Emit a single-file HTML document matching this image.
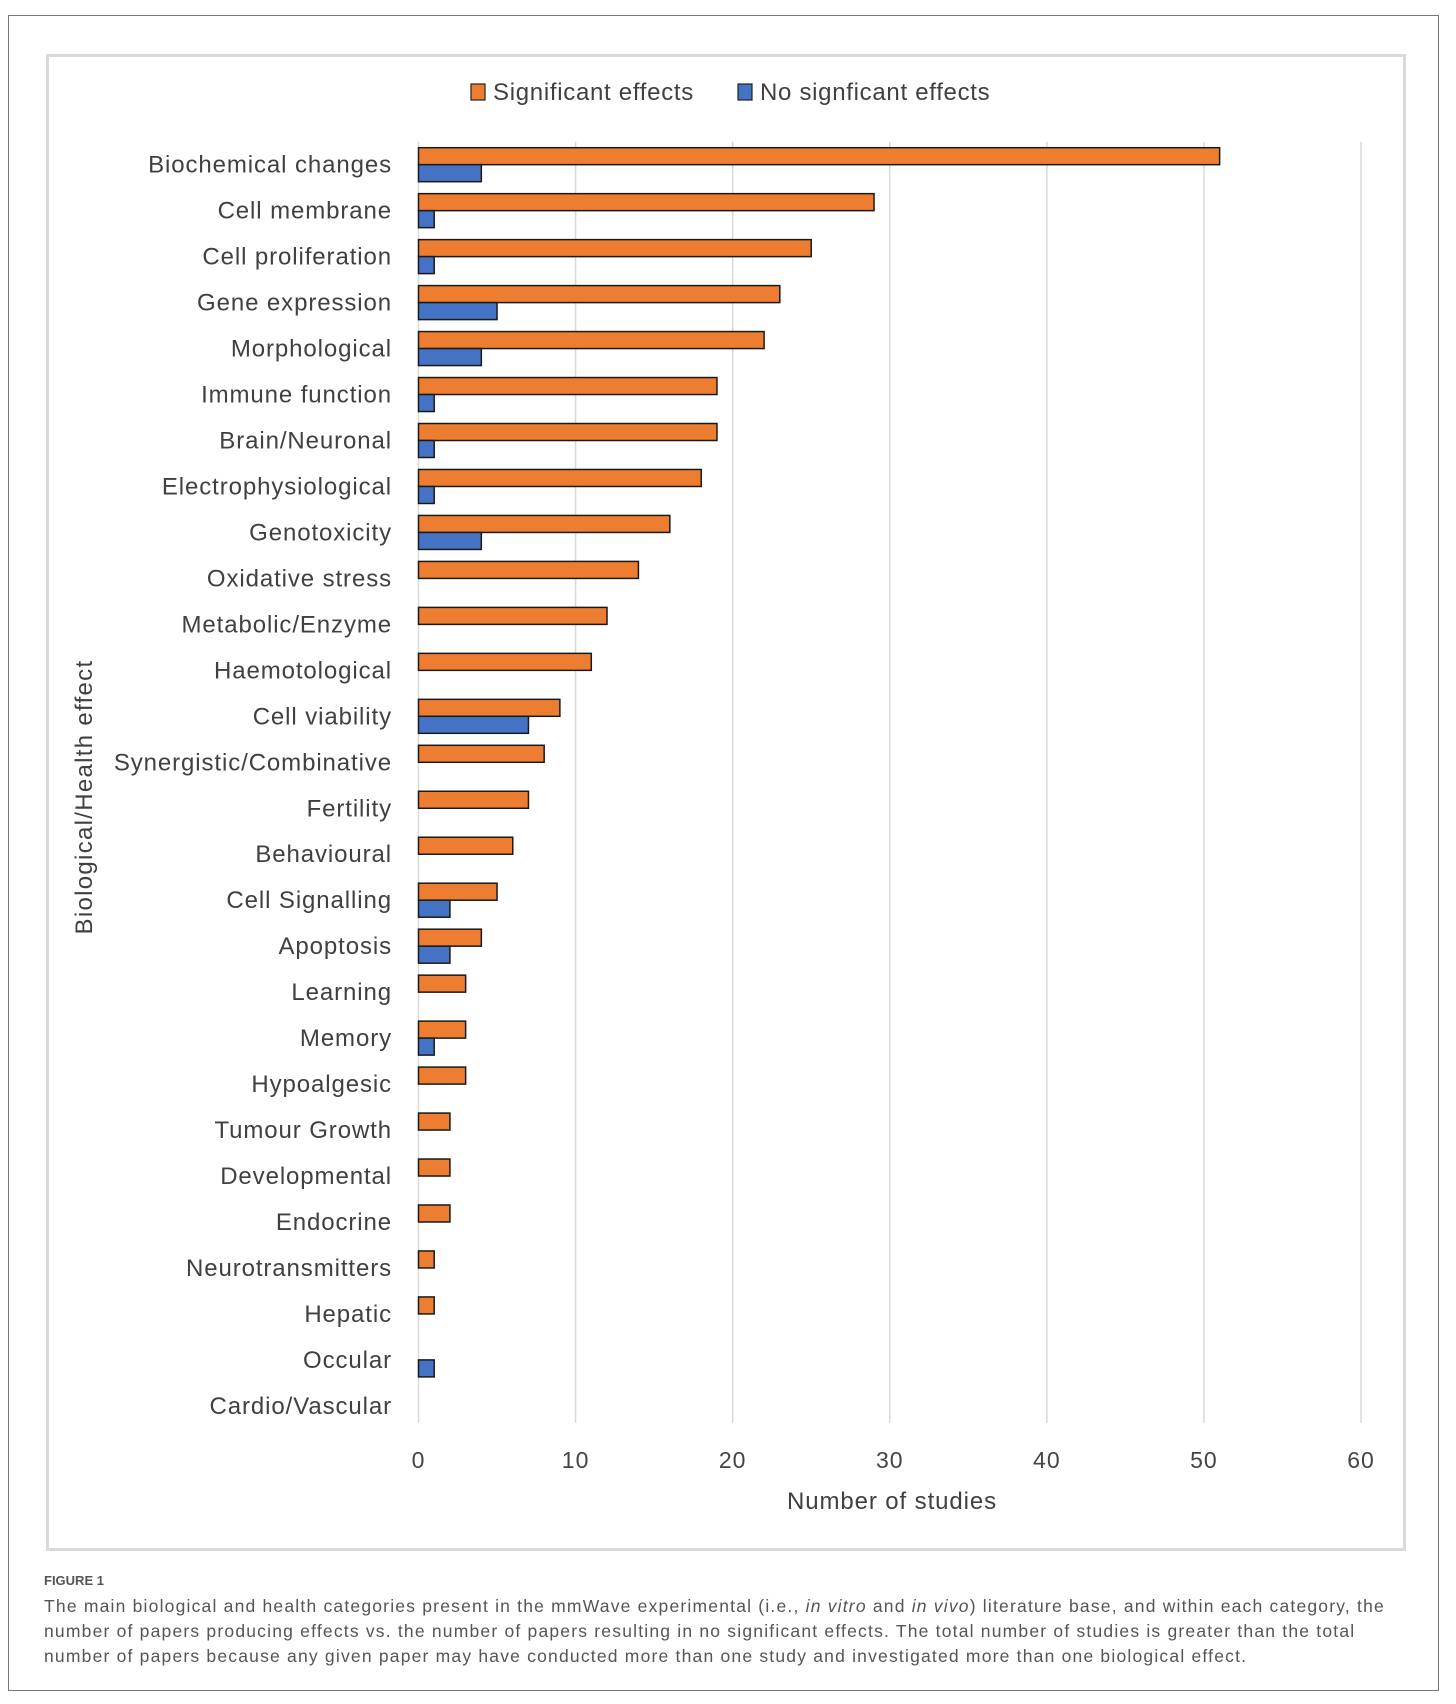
<!DOCTYPE html>
<html><head><meta charset="utf-8">
<style>
html,body{margin:0;padding:0;background:#fff;}
body{width:1456px;height:1704px;position:relative;overflow:hidden;font-family:"Liberation Sans",sans-serif;}
#frame{position:absolute;left:8px;top:15px;width:1431px;height:1676px;border:1.5px solid #777;box-sizing:border-box;}
#chartbox{position:absolute;left:46px;top:54px;width:1360px;height:1497px;border:3px solid #d9d9d9;box-sizing:border-box;}
svg{position:absolute;left:0;top:0;}
.cap{position:absolute;left:44px;color:#555;font-size:17.5px;line-height:25px;white-space:nowrap;letter-spacing:1.2px;}
</style></head>
<body>
<div id="frame"></div>
<div id="chartbox"></div>
<svg id="chart" width="1456" height="1704"></svg>
<div class="cap" style="top:1568px;font-size:13px;font-weight:bold;color:#555;letter-spacing:0;">FIGURE 1</div>
<div class="cap" style="top:1594px;">The main biological and health categories present in the mmWave experimental (i.e., <i>in vitro</i> and <i>in vivo</i>) literature base, and within each category, the<br>number of papers producing effects vs. the number of papers resulting in no significant effects. The total number of studies is greater than the total<br>number of papers because any given paper may have conducted more than one study and investigated more than one biological effect.</div>
<script>
const categories = ["Biochemical changes","Cell membrane","Cell proliferation","Gene expression","Morphological","Immune function","Brain/Neuronal","Electrophysiological","Genotoxicity","Oxidative stress","Metabolic/Enzyme","Haemotological","Cell viability","Synergistic/Combinative","Fertility","Behavioural","Cell Signalling","Apoptosis","Learning","Memory","Hypoalgesic","Tumour Growth","Developmental","Endocrine","Neurotransmitters","Hepatic","Occular","Cardio/Vascular"];
const significant = [51,29,25,23,22,19,19,18,16,14,12,11,9,8,7,6,5,4,3,3,3,2,2,2,1,1,0,0];
const noSignificant = [4,1,1,5,4,1,1,1,4,0,0,0,7,0,0,0,2,2,0,1,0,0,0,0,0,0,1,0];
const xTicks = [0,10,20,30,40,50,60];

const svg = document.getElementById('chart');
const NS = 'http://www.w3.org/2000/svg';
const x0 = 418.5, x1 = 1361, xMax = 60;
const yTop = 141.7, band = 45.97, barH = 17;
const xScale = v => x0 + (x1 - x0) * v / xMax;
const yBand = i => yTop + band * i + band / 2;
function mk(tag, attrs, text){
  const e = document.createElementNS(NS, tag);
  for (const k in attrs) e.setAttribute(k, attrs[k]);
  if (text !== undefined) e.textContent = text;
  svg.appendChild(e);
  return e;
}
const plotBottom = yTop + band * categories.length - 6;
xTicks.forEach(t => {
  const g = mk('line', {x1:xScale(t), x2:xScale(t), y1:yTop, y2:plotBottom, stroke:'#d9d9d9', 'stroke-width':1.5});
  
  
  const l = mk('text', {x:xScale(t), y:1468, 'text-anchor':'middle', 'font-size':23, fill:'#444', 'letter-spacing':1}, String(t));
  
  
});
categories.forEach((c, i) => {
  const cy = yBand(i);
  const lab = mk('text', {x:392, y:cy + 8, 'text-anchor':'end', 'font-size':24, fill:'#404040', 'letter-spacing':0.9}, c);
  
  
  if (significant[i] > 0) {
    const r = mk('rect', {x:xScale(0), y:cy - barH, width:xScale(significant[i]) - xScale(0), height:barH, fill:'#ED7D31', stroke:'#1a1a1a', 'stroke-width':1.5});
    
    
  }
  if (noSignificant[i] > 0) {
    const r = mk('rect', {x:xScale(0), y:cy, width:xScale(noSignificant[i]) - xScale(0), height:barH, fill:'#4472C4', stroke:'#1a1a1a', 'stroke-width':1.5});
    
    
  }
});
// legend
const lg1 = mk('rect', {x:471, y:84, width:14, height:16, fill:'#ED7D31', stroke:'#222', 'stroke-width':1.2});


const lt1 = mk('text', {x:493, y:100, 'font-size':24, fill:'#404040', 'letter-spacing':0.7}, 'Significant effects');


const lg2 = mk('rect', {x:738, y:84, width:14, height:16, fill:'#4472C4', stroke:'#222', 'stroke-width':1.2});


const lt2 = mk('text', {x:760, y:100, 'font-size':24, fill:'#404040', 'letter-spacing':0.7}, 'No signficant effects');


// axis titles
const xt = mk('text', {x:892, y:1509, 'text-anchor':'middle', 'font-size':24, fill:'#404040', 'letter-spacing':0.9}, 'Number of studies');


const yt = mk('text', {x:0, y:0, 'text-anchor':'middle', 'font-size':24, fill:'#404040', 'letter-spacing':1.3, transform:'translate(92,797) rotate(-90)'}, 'Biological/Health  effect');


</script>
</body></html>
